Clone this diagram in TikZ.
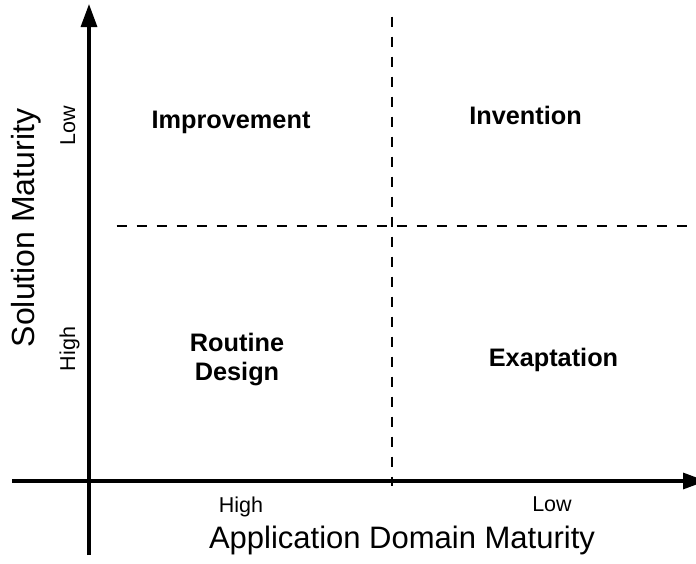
\documentclass[tikz,border=0pt]{standalone}
\usepackage{fontspec}
\setmainfont{Liberation Sans}
\usetikzlibrary{arrows.meta}
\begin{document}
\begin{tikzpicture}[x=1pt,y=-1pt,
  axis/.style={line width=3.2pt,-{Triangle[length=23pt,width=16pt]}},
  divider/.style={line width=2.7pt,dash pattern=on 10pt off 10pt},
  quad/.style={font=\bfseries\fontsize{25.3}{29.5}\selectfont,align=center,anchor=base,inner sep=0pt},
  tick/.style={font=\fontsize{21.5}{25}\selectfont,anchor=base,inner sep=0pt},
  title/.style={font=\fontsize{31}{36}\selectfont,anchor=base,inner sep=0pt}]
\useasboundingbox (0,0) rectangle (696,563);
\clip (0,0) rectangle (696,563);
\coordinate (vtop) at (392,16.7);
\coordinate (vbot) at (392,486);
\coordinate (hleft) at (116.7,226);
\coordinate (hright) at (700,226);
\coordinate (ybot) at (89,555);
\coordinate (ytop) at (89,4);
\coordinate (xleft) at (12,481);
\coordinate (xright) at (706,481);
\draw[divider] (vtop) -- (vbot);
\draw[divider] (hleft) -- (hright);
\draw[axis] (ybot) -- (ytop);
\draw[axis] (xleft) -- (xright);
\node[quad] (imp) at (231,128.5) {Improvement};
\node[quad] (inv) at (525.5,124.5) {Invention};
\node[quad,anchor=north] (rout) at (237,332.5) {Routine\\Design};
\node[quad] (exa) at (553.5,366) {Exaptation};
\node[tick,rotate=90] (ylow) at (75,126) {Low};
\node[tick,rotate=90] (yhigh) at (75,349) {High};
\node[tick] (xhigh) at (241,512) {High};
\node[tick] (xlow) at (552,511.5) {Low};
\node[title] (xt) at (402,548) {Application Domain Maturity};
\node[title,rotate=90,font=\fontsize{32}{36}\selectfont] (yt) at (34,228) {Solution Maturity};
\end{tikzpicture}
\end{document}
